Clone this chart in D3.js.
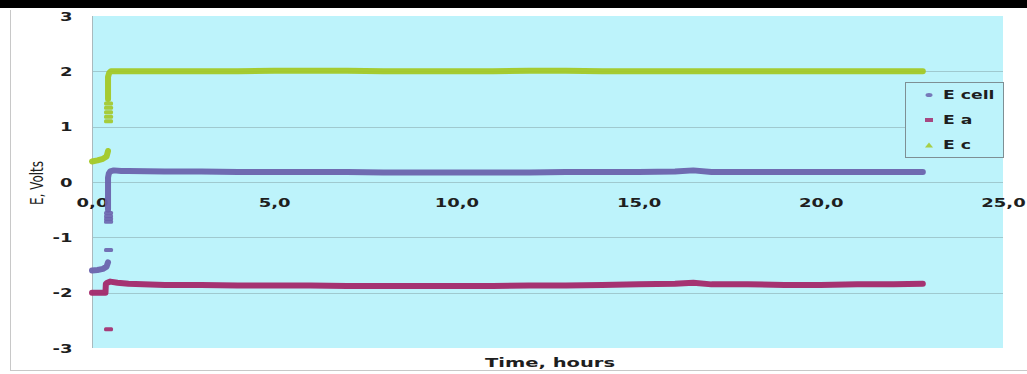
<!DOCTYPE html>
<html><head><meta charset="utf-8">
<script src="https://cdn.jsdelivr.net/npm/d3@7"></script>
<style>
html,body{margin:0;padding:0;background:#fff;}
svg{display:block;}
text{font-family:"DejaVu Sans",sans-serif;}
</style></head>
<body>
<svg id="chart" width="1027" height="374"></svg>
<script>
// ---- data ----
const xTicks = [0, 5, 10, 15, 20, 25];
const xTickLabels = ["0,0", "5,0", "10,0", "15,0", "20,0", "25,0"];
const yTicks = [-3, -2, -1, 0, 1, 2, 3];
const yTickLabels = ["-3", "-2", "-1", "0", "1", "2", "3"];
const seriesNames = ["E cell", "E a", "E c"];

// E cell (null = break in the run of markers)
const hoursCell = [0, 0.15, 0.3, 0.4, 0.44, null, 0.44, 0.44, 0.46, 0.5, 0.6, 0.8, 1, 2, 3, 4, 5, 6, 7, 8, 9, 10, 11, 12, 13, 14, 15, 16, 16.5, 17, 18, 19, 20, 21, 22, 22.8];
const eCell =     [-1.60, -1.59, -1.57, -1.53, -1.45, null, -0.5, 0.08, 0.15, 0.19, 0.21, 0.2, 0.2, 0.19, 0.19, 0.18, 0.18, 0.18, 0.18, 0.17, 0.17, 0.17, 0.17, 0.17, 0.18, 0.18, 0.18, 0.19, 0.21, 0.18, 0.18, 0.18, 0.18, 0.18, 0.18, 0.18];
const hoursCellScatter = [0.44, 0.44, 0.44, 0.44, 0.44];
const eCellScatter = [-0.56, -0.62, -0.67, -0.72, -1.23];

// E a
const hoursA = [0, 0.2, 0.37, 0.38, 0.42, 0.5, 0.7, 1, 2, 3, 4, 5, 6, 7, 8, 9, 10, 11, 12, 13, 14, 15, 16, 16.5, 17, 18, 19, 20, 21, 22, 22.8];
const eA =     [-2.0, -2.0, -2.0, -1.84, -1.82, -1.8, -1.82, -1.84, -1.86, -1.86, -1.87, -1.87, -1.87, -1.88, -1.88, -1.88, -1.88, -1.88, -1.87, -1.87, -1.86, -1.85, -1.84, -1.82, -1.85, -1.85, -1.86, -1.86, -1.85, -1.85, -1.84];
const hoursAScatter = [0.44];
const eAScatter = [-2.66];

// E c
const hoursC = [0, 0.15, 0.3, 0.4, 0.44, null, 0.44, 0.44, 0.47, 0.52, 0.6, 0.8, 1, 2, 3, 4, 5, 6, 7, 8, 9, 10, 11, 12, 13, 14, 15, 16, 17, 18, 19, 20, 21, 22, 22.8];
const eC =     [0.37, 0.39, 0.42, 0.46, 0.56, null, 1.5, 1.9, 1.97, 2.0, 2.0, 2.0, 2.0, 2.0, 2.0, 2.0, 2.01, 2.01, 2.01, 2.0, 2.0, 2.0, 2.0, 2.01, 2.01, 2.0, 2.0, 2.0, 2.0, 2.0, 2.0, 2.0, 2.0, 2.0, 2.0];
const hoursCScatter = [0.44, 0.44, 0.44, 0.44, 0.44];
const eCScatter = [1.1, 1.18, 1.26, 1.34, 1.42];

// ---- styling ----
const colors = ["#6a63ad", "#a3286a", "#a3c826"];
const plotBg = "#bdf3fb";
const gridColor = "#9fc9cf";
const SX = 1.5; // horizontal stretch of the original raster text

const svg = d3.select("#chart");
const W = 1027, H = 374;
const mLeft = 92, mRight = 1003, mTop = 16, mBottom = 348;

// frame
svg.append("rect").attr("x", 0).attr("y", 0).attr("width", W).attr("height", 8).attr("fill", "#000");
svg.append("line").attr("x1", 10.5).attr("x2", 10.5).attr("y1", 10).attr("y2", 371).attr("stroke", "#c8c8c8");
svg.append("line").attr("x1", 10).attr("x2", W).attr("y1", 370.5).attr("y2", 370.5).attr("stroke", "#c8c8c8");

const x = d3.scaleLinear().domain([0, 25]).range([mLeft, mRight]);
const y = d3.scaleLinear().domain([-3, 3]).range([mBottom, mTop]);

svg.append("rect").attr("x", mLeft).attr("y", mTop).attr("width", mRight - mLeft).attr("height", mBottom - mTop).attr("fill", plotBg);

// gridlines
svg.append("g").selectAll("line").data(yTicks.filter(d => d > -3 && d < 3)).join("line")
  .attr("x1", mLeft).attr("x2", mRight)
  .attr("y1", d => Math.round(y(d)) + 0.5).attr("y2", d => Math.round(y(d)) + 0.5)
  .attr("stroke", gridColor).attr("stroke-width", 1);
// left axis line
svg.append("line").attr("x1", mLeft + 0.5).attr("x2", mLeft + 0.5).attr("y1", mTop).attr("y2", mBottom).attr("stroke", "#a9b9bd");

// y axis labels
const yAxis = d3.axisLeft(y).tickValues(yTicks).tickSize(0).tickFormat((d, i) => yTickLabels[i]);
const gy = svg.append("g").attr("transform", `translate(${mLeft},0)`).call(yAxis);
gy.select(".domain").remove();
gy.selectAll("text").attr("x", -13).attr("dy", "0.35em")
  .attr("transform", `scale(${SX},1)`)
  .style("font-size", "12px").style("font-weight", "bold").attr("fill", "#1e1e1e");

// x axis labels (placed on the zero line)
const xAxis = d3.axisBottom(x).tickValues(xTicks).tickSize(0).tickFormat((d, i) => xTickLabels[i]);
const gx = svg.append("g").attr("transform", `translate(0,${y(0)})`).call(xAxis);
gx.select(".domain").remove();
gx.selectAll("text").attr("y", 16).attr("dy", "0.71em")
  .attr("transform", `scale(${SX},1)`)
  .style("font-size", "12px").style("font-weight", "bold").attr("fill", "#1e1e1e");

// series
const line = d3.line().defined(d => d[0] !== null && d[1] !== null).x(d => x(d[0])).y(d => y(d[1]));
const series = [
  {h: hoursCell, v: eCell, hs: hoursCellScatter, vs: eCellScatter},
  {h: hoursA, v: eA, hs: hoursAScatter, vs: eAScatter},
  {h: hoursC, v: eC, hs: hoursCScatter, vs: eCScatter}
];
series.forEach((s, i) => {
  const pts = s.h.map((t, k) => [t, s.v[k]]);
  svg.append("path").datum(pts).attr("d", line)
    .attr("fill", "none").attr("stroke", colors[i]).attr("stroke-width", 6)
    .attr("stroke-linejoin", "round").attr("stroke-linecap", "round").attr("opacity", 0.95);
  svg.append("g").selectAll("rect").data(s.hs.map((t, k) => [t, s.vs[k]])).join("rect")
    .attr("x", d => x(d[0]) - 4).attr("y", d => y(d[1]) - 2)
    .attr("width", 9).attr("height", 4).attr("rx", 1.5)
    .attr("fill", colors[i]).attr("opacity", 0.9);
});

// legend
const lg = svg.append("g");
lg.append("rect").attr("x", 905.5).attr("y", 82.5).attr("width", 98).attr("height", 75)
  .attr("fill", plotBg).attr("stroke", "#7e8f94").attr("stroke-width", 1);
const rows = [95, 120, 145];
seriesNames.forEach((n, i) => {
  const cy = rows[i];
  if (i === 0) {
    lg.append("ellipse").attr("cx", 929).attr("cy", cy).attr("rx", 3.5).attr("ry", 2).attr("fill", colors[0]).attr("opacity", 0.85);
  } else if (i === 1) {
    lg.append("rect").attr("x", 925).attr("y", cy - 2).attr("width", 8).attr("height", 4).attr("fill", colors[1]).attr("opacity", 0.85);
  } else {
    lg.append("path").attr("d", `M${925},${cy + 2.5}L${929},${cy - 2.5}L${933},${cy + 2.5}Z`).attr("fill", colors[2]).attr("opacity", 0.85);
  }
  lg.append("text").attr("transform", `translate(943,${cy}) scale(${SX},1)`).attr("dy", "0.35em")
    .style("font-size", "11.5px").style("font-weight", "bold").attr("fill", "#1e1e1e").text(n);
});

// axis titles
svg.append("text").attr("transform", `translate(550,362) scale(${SX},1)`).attr("text-anchor", "middle").attr("dy", "0.35em")
  .style("font-size", "13px").style("font-weight", "bold").attr("fill", "#1e1e1e").text("Time, hours");
svg.append("text").attr("transform", `translate(37,183) scale(${SX},1) rotate(-90)`).attr("text-anchor", "middle").attr("dy", "0.35em")
  .style("font-size", "12px").attr("fill", "#1e1e1e").text("E, Volts");
</script>
</body></html>
